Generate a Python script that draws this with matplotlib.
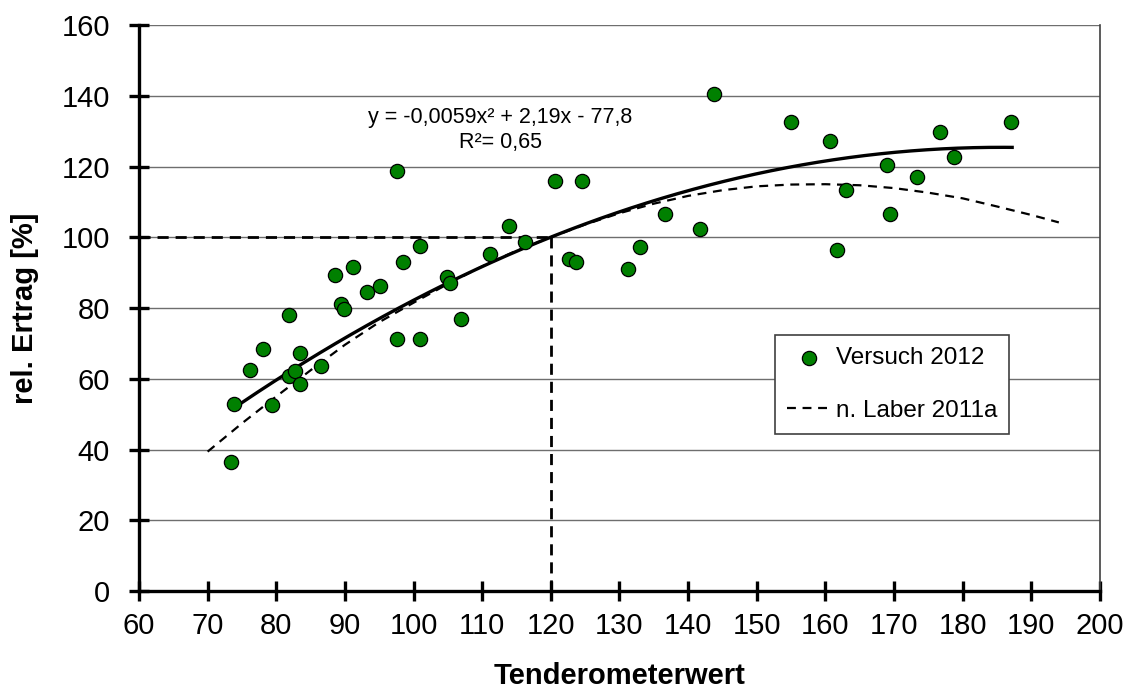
import numpy as np
import matplotlib
matplotlib.use("Agg")
import matplotlib.pyplot as plt

plt.rcParams['font.family'] = ['Liberation Sans', 'DejaVu Sans']

# Versuch 2012 (Tenderometerwert, rel. Ertrag)
tender = [73.4, 73.9, 76.2, 78.1, 79.4, 81.8, 81.9, 82.8, 83.4, 83.5,
          86.5, 88.5, 89.5, 89.9, 91.2, 93.2, 95.1, 97.6, 97.6, 98.5,
          100.9, 100.9, 104.9, 105.3, 106.9, 111.2, 113.9, 116.2, 120.6, 122.6,
          123.7, 124.6, 131.2, 133.0, 136.6, 141.7, 143.7, 155.0, 160.7, 161.7,
          163.0, 169.0, 169.4, 173.4, 176.7, 178.7, 187.1]
ertrag = [36.4, 52.9, 62.6, 68.4, 52.7, 60.8, 77.9, 62.1, 67.3, 58.5,
          63.6, 89.4, 81.0, 79.7, 91.5, 84.4, 86.3, 71.2, 118.7, 92.9,
          97.6, 71.2, 88.8, 87.1, 77.0, 95.3, 103.3, 98.7, 115.9, 93.8,
          93.0, 115.9, 91.0, 97.3, 106.7, 102.2, 140.4, 132.6, 127.2, 96.5,
          113.4, 120.5, 106.6, 116.9, 129.7, 122.7, 132.6]

# trendline coefficients as printed on the chart, and its x range
fit_coef = [-0.0059, 2.19, -77.8]
fit_range = [74.5, 187.2]

# curve "n. Laber 2011a"
laber_x = [70, 75, 80, 85, 90, 95, 100, 105, 110, 115, 120, 125, 130,
           135, 140, 145, 150, 155, 160, 165, 170, 175, 180, 185, 190, 194]
laber_y = [39.4, 47.4, 55.0, 62.4, 69.6, 76.0, 81.5, 86.8, 91.8, 96.2, 100.0,
           103.6, 106.8, 109.5, 111.7, 113.3, 114.4, 114.9, 115.0, 114.7,
           113.9, 112.6, 111.0, 108.7, 106.3, 104.2]

# reference point (Tenderometer 120 -> 100 %)
ref_x, ref_y = 120, 100

fig = plt.figure(figsize=(11.28, 6.89), dpi=100)
ax = fig.add_axes([0.1232, 0.1422, 0.852, 0.8215])

ax.set_xlim(60, 200)
ax.set_ylim(0, 160)
ax.set_xticks(np.arange(60, 201, 10))
ax.set_yticks(np.arange(0, 161, 20))
ax.yaxis.grid(True, color='#6e6e6e', lw=1.0)
ax.set_axisbelow(True)

for s in ['left', 'bottom']:
    ax.spines[s].set_linewidth(2.4)
    ax.spines[s].set_color('black')
ax.spines['top'].set_visible(False)
ax.spines['right'].set_linewidth(1.2)
ax.spines['right'].set_color('#404040')
ax.tick_params(direction='inout', length=14, width=2.4, labelsize=21)
ax.tick_params(axis='y', pad=14)
ax.tick_params(axis='x', pad=8)

# reference dashed lines
ax.plot([60, ref_x], [ref_y, ref_y], color='black', lw=2.0, ls=(0, (4, 2.5)), zorder=2)
ax.plot([ref_x, ref_x], [0, ref_y], color='black', lw=2.0, ls=(0, (4, 2.5)), zorder=2)

xf = np.linspace(fit_range[0], fit_range[1], 200)
ax.plot(xf, np.polyval(fit_coef, xf), color='black', lw=2.4, zorder=3)

ax.plot(laber_x, laber_y, color='black', lw=1.6, ls=(0, (4, 3)), zorder=3,
        label='n. Laber 2011a')

ax.scatter(tender, ertrag, s=105, color='#008000', edgecolor='black',
           linewidth=0.9, zorder=4, label='Versuch 2012')

ax.text(112.6, 130.3, 'y = -0,0059x² + 2,19x - 77,8\nR²= 0,65',
        ha='center', va='center', multialignment='center', fontsize=15.5,
        linespacing=1.25)

ax.set_xlabel('Tenderometerwert', fontsize=21, fontweight='bold', labelpad=16)
ax.set_ylabel('rel. Ertrag [%]', fontsize=21, fontweight='bold', labelpad=16)

h, l = ax.get_legend_handles_labels()
leg = ax.legend(h[::-1], l[::-1], loc='upper left', bbox_to_anchor=(0.662, 0.452),
                borderaxespad=0, fontsize=17.5, frameon=True, fancybox=False,
                edgecolor='#404040', framealpha=1, labelspacing=1.25,
                handlelength=1.75, handletextpad=0.25, borderpad=0.5)
leg.get_frame().set_linewidth(1.2)

fig.savefig('out.png', dpi=100)
